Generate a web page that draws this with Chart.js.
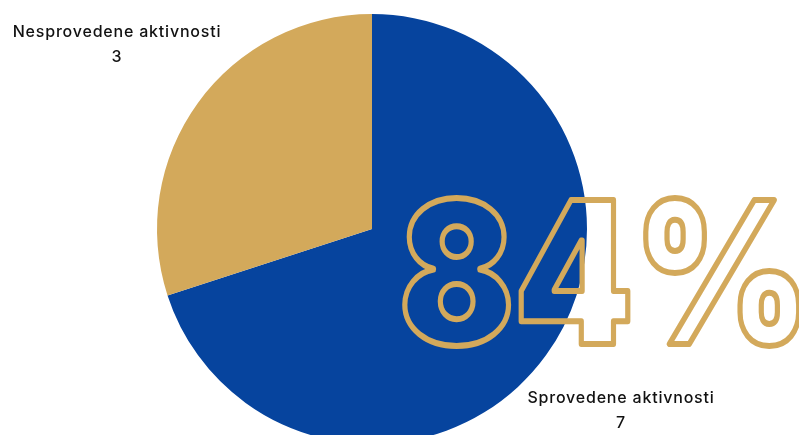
<!DOCTYPE html>
<html>
<head>
<meta charset="utf-8">
<script src="https://cdn.jsdelivr.net/npm/chart.js@4"></script>
<style>
  html, body { margin: 0; padding: 0; background: #fff; overflow: hidden; }
  #wrap { position: absolute; left: 0; top: 0; width: 799px; height: 460px; }
</style>
</head>
<body>
<div id="wrap"><canvas id="pieChart"></canvas></div>
<script>
const labels = ['Sprovedene aktivnosti', 'Nesprovedene aktivnosti'];
const values = [7, 3];
const colors = ['#06449e', '#d3a95b'];
const bigText = '84%';

// label anchor for each slice (centre of text block)
const labelPos = [[621, 398], [117, 32]];

const labelPlugin = {
    id: 'labelPlugin',
    afterDraw(chart) {
        const ctx = chart.ctx;
        ctx.save();

        // big outlined percentage, squeezed to the reference width
        ctx.font = '900 198px Inter';
        ctx.textAlign = 'left';
        ctx.textBaseline = 'alphabetic';
        const w = ctx.measureText(bigText).width;
        const sx = 412 / w;
        ctx.save();
        ctx.translate(399, 344);
        ctx.scale(sx, 1);
        ctx.lineJoin = 'round';
        ctx.lineWidth = 6;
        ctx.strokeStyle = colors[1];
        ctx.strokeText(bigText, 0, 0);
        ctx.restore();

        // slice labels
        ctx.fillStyle = '#111';
        ctx.textAlign = 'center';
        ctx.textBaseline = 'middle';
        ctx.letterSpacing = '0.8px';
        labels.forEach((l, i) => {
            const [x, y] = labelPos[i];
            ctx.font = '500 16px Inter';
            ctx.fillText(l, x, y);
            ctx.fillText(String(values[i]), x, y + 25);
        });
        ctx.restore();
    }
};

new Chart(document.getElementById('pieChart'), {
    type: 'pie',
    data: {
        labels: labels,
        datasets: [{
            data: values,
            backgroundColor: colors,
            borderWidth: 0
        }]
    },
    options: {
        responsive: true,
        maintainAspectRatio: false,
        animation: false,
        layout: { padding: { top: 14, bottom: 16, left: 0, right: 55 } },
        plugins: {
            legend: { display: false },
            tooltip: { enabled: false }
        }
    },
    plugins: [labelPlugin]
});
</script>
</body>
</html>
